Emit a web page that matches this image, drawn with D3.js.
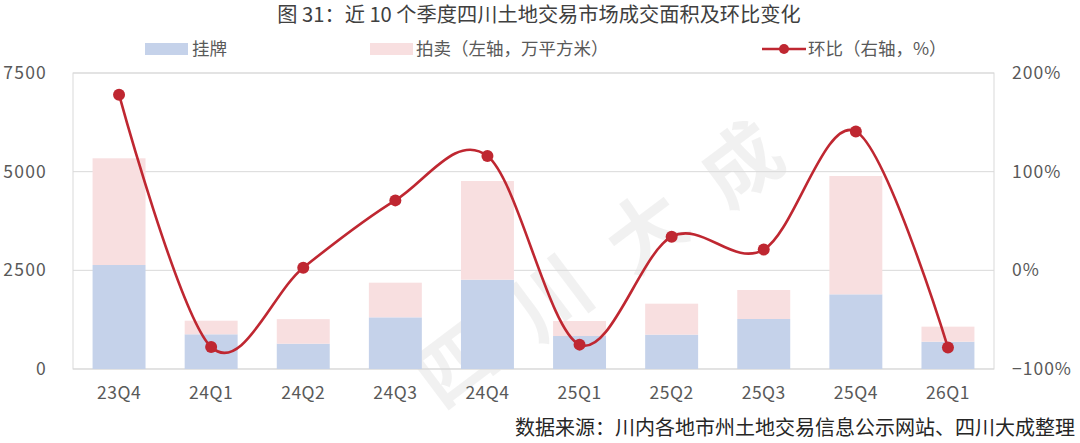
<!DOCTYPE html>
<html><head><meta charset="utf-8">
<script src="https://cdn.jsdelivr.net/npm/d3@7"></script>
<style>body{margin:0;background:#fff}svg{display:block}text{font-family:"Noto Sans CJK SC","Noto Sans",sans-serif}</style>
</head><body><svg id="c" width="1080" height="443"></svg>
<script>
const categories = ["23Q4","24Q1","24Q2","24Q3","24Q4","25Q1","25Q2","25Q3","25Q4","26Q1"];
const listing = [2635, 879, 641, 1309, 2263, 836, 870, 1267, 1892, 692];
const auction = [2704, 345, 622, 878, 2501, 380, 785, 735, 2998, 381];
const qoq = [178, -77.7, 2.7, 70.9, 115.8, -75.3, 34.1, 21, 140.8, -78.3];
const leftTicks = [0, 2500, 5000, 7500];
const rightTicks = [-100, 0, 100, 200];
const watermark = ["四","川","大","成"];

const svg = d3.select("#c");
const L = 73, R = 994, T = 73, B = 369;
const x = d3.scaleBand().domain(categories).range([L, R]).paddingInner(0.425).paddingOuter(0.2125);
const yL = d3.scaleLinear().domain([0, 7500]).range([B, T]);
const yR = d3.scaleLinear().domain([-100, 200]).range([B, T]);

function fit(sel, w) {
  const fs = +sel.attr("font-size");
  const len = sel.node().getComputedTextLength();
  if (len > 0) sel.attr("font-size", fs * w / len);
  return sel;
}

// watermark (faint, behind)
const wm = d3.scaleLinear().domain([0, 3]);
svg.append("g").selectAll("text").data(watermark).join("text")
  .attr("transform",(d,i)=>`translate(${wm.range([452,738])(i)},${wm.range([360,160])(i)}) rotate(-37)`)
  .attr("text-anchor","middle").attr("dominant-baseline","central")
  .attr("font-size",78).attr("font-weight","bold")
  .attr("fill","#000").attr("fill-opacity",0.055).text(d=>d);

// grid
svg.append("g").selectAll("line").data(leftTicks).join("line")
  .attr("x1",L).attr("x2",R).attr("y1",d=>yL(d)).attr("y2",d=>yL(d))
  .attr("stroke","#d9d9d9").attr("stroke-width",1);
svg.append("rect").attr("x",L).attr("y",T).attr("width",R-L).attr("height",B-T)
  .attr("fill","none").attr("stroke","#d9d9d9");

// bars
const g = svg.append("g");
g.selectAll(".b1").data(categories).join("rect")
  .attr("x",d=>x(d)).attr("width",x.bandwidth())
  .attr("y",(d,i)=>yL(listing[i])).attr("height",(d,i)=>yL(0)-yL(listing[i]))
  .attr("fill","#c5d2ea");
g.selectAll(".b2").data(categories).join("rect")
  .attr("x",d=>x(d)).attr("width",x.bandwidth())
  .attr("y",(d,i)=>yL(listing[i]+auction[i])).attr("height",(d,i)=>yL(0)-yL(auction[i]))
  .attr("fill","#f8dfe0");

// line
const pts = categories.map((c,i)=>[x(c)+x.bandwidth()/2, yR(qoq[i])]);
svg.append("path").attr("d", d3.line().curve(d3.curveCatmullRom.alpha(0))(pts))
  .attr("fill","none").attr("stroke","#bf2731").attr("stroke-width",2.6);
svg.append("g").selectAll("circle").data(pts).join("circle")
  .attr("cx",d=>d[0]).attr("cy",d=>d[1]).attr("r",6).attr("fill","#bf2731");

// axes labels
const tc = "#595959";
svg.append("g").selectAll("text").data(leftTicks).join("text")
  .attr("x",47).attr("y",d=>yL(d)).attr("dy","0.35em").attr("text-anchor","end")
  .attr("font-size",17.5).attr("letter-spacing",1.2).attr("fill",tc).text(d=>d);
svg.append("g").selectAll("text").data(rightTicks).join("text")
  .attr("x",1012).attr("y",d=>yR(d)).attr("dy","0.35em").attr("text-anchor","start")
  .attr("font-size",17.5).attr("letter-spacing",1).attr("fill",tc).text(d=>(d<0?"\u2212"+(-d):d)+"%");
svg.append("g").selectAll("text").data(categories).join("text")
  .attr("x",d=>x(d)+x.bandwidth()/2).attr("y",393).attr("dy","0.35em").attr("text-anchor","middle")
  .attr("font-size",17.5).attr("letter-spacing",0.5).attr("fill",tc).text(d=>d);

// title
fit(svg.append("text").attr("x",539).attr("y",15).attr("dy","0.35em").attr("text-anchor","middle")
  .attr("font-size",19).attr("fill","#404040").text("图 31：近 10 个季度四川土地交易市场成交面积及环比变化"), 524);

// legend
const ly = 49;
svg.append("rect").attr("x",145).attr("y",ly-6).attr("width",43).attr("height",12).attr("fill","#c5d2ea");
svg.append("text").attr("x",192).attr("y",ly).attr("dy","0.35em").attr("font-size",17.5).attr("fill",tc).text("挂牌");
svg.append("rect").attr("x",370).attr("y",ly-6).attr("width",43).attr("height",12).attr("fill","#f8dfe0");
svg.append("text").attr("x",416).attr("y",ly).attr("dy","0.35em").attr("font-size",17.5).attr("fill",tc).text("拍卖（左轴，万平方米）");
svg.append("line").attr("x1",762).attr("x2",806).attr("y1",ly).attr("y2",ly).attr("stroke","#bf2731").attr("stroke-width",2.6);
svg.append("circle").attr("cx",784).attr("cy",ly).attr("r",5).attr("fill","#bf2731");
svg.append("text").attr("x",808).attr("y",ly).attr("dy","0.35em").attr("font-size",17.5).attr("fill",tc).text("环比（右轴，%）");

// source
fit(svg.append("text").attr("x",1075).attr("y",428).attr("dy","0.35em").attr("text-anchor","end")
  .attr("font-size",20).attr("fill","#262626").text("数据来源：川内各地市州土地交易信息公示网站、四川大成整理"), 560);
</script></body></html>
